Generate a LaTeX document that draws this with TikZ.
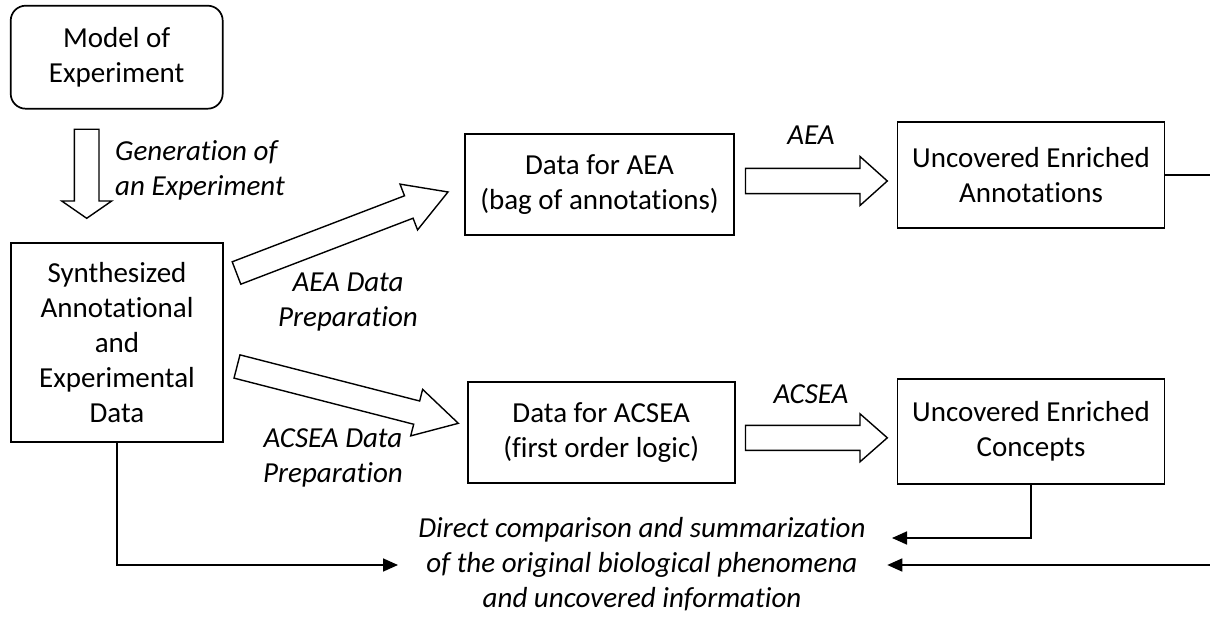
\documentclass[tikz,border=0pt]{standalone}
\usepackage{fontspec}
\setmainfont[Ligatures={NoCommon}]{Carlito}
\usetikzlibrary{arrows.meta}

\newcommand{\bodyfont}{\fontsize{29}{35}\selectfont}
\newcommand{\labelfont}{\fontsize{29}{35}\selectfont\itshape}

\tikzset{
  box/.style={draw, line width=1.7pt, align=center, inner sep=0pt, font=\bodyfont},
  lbl/.style={align=center, inner sep=0pt, font=\labelfont},
  conn/.style={line width=1.7pt, -{Triangle[length=15pt,width=13pt]}},
  fatline/.style={draw, line width=1.4pt, fill=white, line join=miter},
  % hollow block arrow: length, half shaft width, head length, half head width
  pics/fat/.style n args={4}{code={
    \path[fatline] (0,-#2) -- ({#1-#3},-#2) -- ({#1-#3},-#4) -- (#1,0)
      -- ({#1-#3},#4) -- ({#1-#3},#2) -- (0,#2) -- cycle;
  }}
}

\begin{document}
\begin{tikzpicture}[x=1pt, y=-1pt]
\useasboundingbox (0,0) rectangle (1210,617);

% boxes
\node[box, rounded corners=15pt, minimum width=212pt, minimum height=103pt]
  (model) at (116.7,57.2) {Model of\\Experiment};
\node[box, minimum width=212pt, minimum height=199pt]
  (synth) at (117,342.5) {Synthesized\\Annotational\\and\\Experimental\\Data};
\node[box, minimum width=269pt, minimum height=101pt]
  (dAEA) at (599.5,184.5) {Data for AEA\\(bag of annotations)};
\node[box, minimum width=267pt, minimum height=101pt]
  (dACSEA) at (601.2,432.2) {Data for ACSEA\\(first order logic)};
\node[box, minimum width=267pt, minimum height=106pt]
  (uAEA) at (1031,174.9) {Uncovered Enriched\\Annotations};
\node[box, minimum width=267pt, minimum height=105pt]
  (uACSEA) at (1031,431.7) {Uncovered Enriched\\Concepts};

% italic labels
\node[lbl, align=left, anchor=west] (gen) at (115,170) {Generation of\\an Experiment};
\node[lbl] (prepAEA) at (348,302) {AEA Data\\Preparation};
\node[lbl] (prepACSEA) at (333,458) {ACSEA Data\\Preparation};
\node[lbl, anchor=base] (runAEA) at (811,145) {AEA};
\node[lbl, anchor=base] (runACSEA) at (811,403) {ACSEA};
\node[lbl] (summary) at (642,564)
  {Direct comparison and summarization\\of the original biological phenomena\\and uncovered information};

% hollow block arrows
\pic[rotate=-90] at (86.7,129.3) {fat={89}{12.3}{17.3}{25}};
\pic[rotate=20.96] at (236.5,273) {fat={226.5}{12}{42}{24.5}};
\pic[rotate=-14.4] at (237,366.5) {fat={228.5}{12}{43}{24}};
\pic at (745.5,181) {fat={141.8}{12.6}{27.3}{24.5}};
\pic at (745.5,437.8) {fat={141.8}{12.5}{27.3}{24}};

% ends of the connectors beside the summary text
\coordinate (inL) at (398,565);
\coordinate (inR1) at (892,538);
\coordinate (inR2) at (887.3,565);

% connectors into the summary
\draw[conn] (synth.south) |- (inL);
\draw[conn] (uACSEA.south) |- (inR1);
\draw[conn] (uAEA.east) -- ++(55,0) |- (inR2);
\end{tikzpicture}
\end{document}
